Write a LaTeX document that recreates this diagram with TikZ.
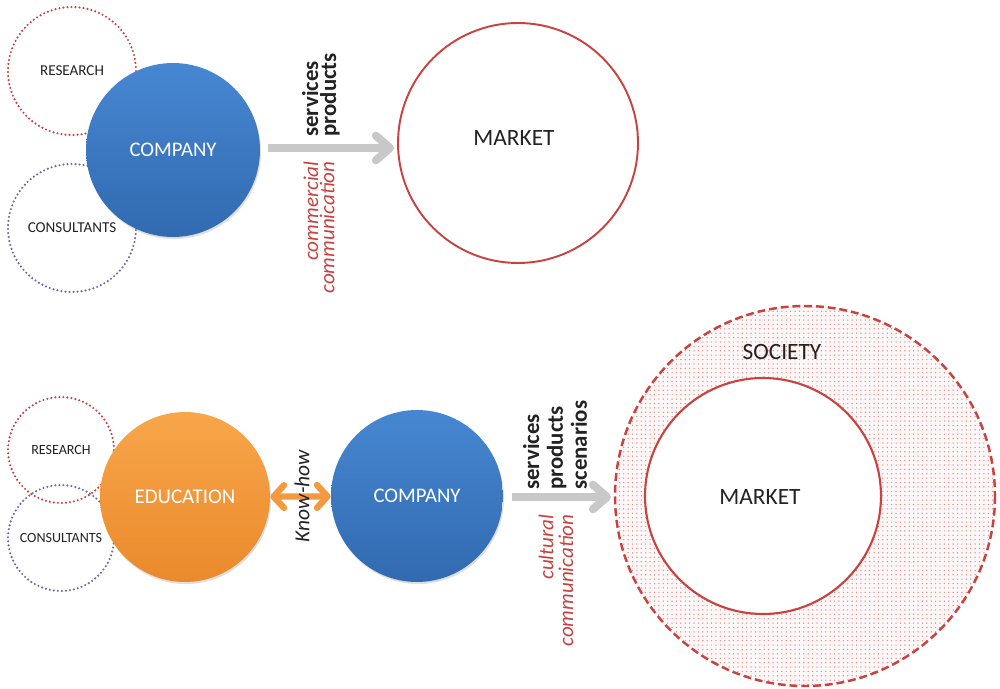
\documentclass[tikz,border=0pt]{standalone}
\usepackage{fontspec}
\setmainfont{Carlito}
\usetikzlibrary{arrows.meta,patterns.meta,shadows}
\definecolor{cbluetop}{HTML}{4787D2}
\definecolor{cbluebot}{HTML}{316AB0}
\definecolor{corangetop}{HTML}{F8A64A}
\definecolor{corangebot}{HTML}{EA8A2C}
\definecolor{cred}{HTML}{C8433F}
\definecolor{cpurple}{HTML}{7466A6}
\definecolor{cgray}{HTML}{C8C8C8}
\definecolor{corange}{HTML}{F39A40}
\definecolor{ctext}{HTML}{222222}
\begin{document}
\begin{tikzpicture}[x=0.02cm,y=-0.02cm,
  dotcirc/.style={circle, draw, line width=1.35pt, dash pattern=on 0pt off 2.3pt, line cap=round, inner sep=0pt, text=ctext},
  bigball/.style={circle, inner sep=0pt, text=white, font=\fontsize{11.8}{14}\selectfont,
     drop shadow={shadow xshift=0.6pt, shadow yshift=-1.2pt, opacity=0.25}},
  blueball/.style={bigball, top color=cbluetop, bottom color=cbluebot},
  orangeball/.style={bigball, top color=corangetop, bottom color=corangebot},
  grayarrow/.style={draw=cgray, line width=4.6pt, -{Straight Barb[length=8pt,width=14pt,line cap=round,line join=round]}},
  orangearrow/.style={draw=corange, line width=3.6pt, {Straight Barb[length=6pt,width=13pt,line cap=round,line join=round]}-{Straight Barb[length=6pt,width=13pt,line cap=round,line join=round]}},
  smallfont/.style={font=\fontsize{8.6}{10}\selectfont},
  smallfontb/.style={font=\fontsize{8}{10}\selectfont},
  bigfont/.style={font=\fontsize{13.3}{16}\selectfont, text=ctext},
  vlabel/.style={rotate=90, inner sep=0pt},
]
\useasboundingbox (0,0) rectangle (1000,689);

% ---------- top diagram ----------
\node[dotcirc, draw=cred, minimum size=2.56cm, smallfont] (res1) at (72,71) {RESEARCH};
\node[dotcirc, draw=cpurple, minimum size=2.56cm, smallfont] (con1) at (72,228) {CONSULTANTS};
\node[blueball, minimum size=3.48cm] (comp1) at (173,150) {COMPANY};
\node[circle, draw=cred, line width=1.1pt, minimum size=4.8cm, inner sep=0pt] (mkt1) at (518,143) {};
\node[bigfont] (mkt1t) at (514,138) {MARKET};
\coordinate (a1s) at (268,148);
\coordinate (a1e) at (394,148);
\draw[grayarrow] (a1s) -- (a1e);
\node[vlabel, anchor=west, align=left, font=\fontsize{13}{9.2}\selectfont\bfseries, text=ctext] (sp1) at (321,137) {services\\products};
\node[vlabel, anchor=east, align=right, font=\fontsize{12}{9.2}\selectfont\itshape, text=cred] (cc1) at (319,161) {commercial\\communication};

% ---------- bottom diagram ----------
\node[circle, fill=cred!4, minimum size=7.6cm, inner sep=0pt] (soc) at (805,496) {};
\fill[pattern={Dots[distance=2.5pt, radius=0.42pt]}, pattern color=cred!60] (soc.center) circle (189);
\draw[cred, line width=1.4pt, dash pattern=on 4.5pt off 2.2pt] (soc.center) circle (190);
\node[bigfont] (soct) at (782,352) {SOCIETY};
\node[circle, draw=cred, fill=white, line width=1.2pt, minimum size=4.72cm, inner sep=0pt] (mkt2) at (763,496) {};
\node[bigfont] (mkt2t) at (760,497) {MARKET};

\node[dotcirc, draw=cred, minimum size=2.12cm, smallfontb] (res2) at (61,450) {RESEARCH};
\node[dotcirc, draw=cpurple, minimum size=2.12cm, smallfontb] (con2) at (61,538) {CONSULTANTS};
\node[orangeball, minimum size=3.4cm, font=\fontsize{11.9}{14}\selectfont] (edu) at (185,497) {EDUCATION};
\node[blueball, minimum size=3.44cm] (comp2) at (417,496) {COMPANY};

\draw[orangearrow] (edu) -- (comp2);
\node[vlabel, font=\fontsize{12.2}{14}\selectfont\itshape, text=ctext] (kh) at (302,496) {Know-how};

\coordinate (a2s) at (512,497);
\coordinate (a2e) at (611,497);
\draw[grayarrow] (a2s) -- (a2e);
\node[vlabel, anchor=west, align=left, font=\fontsize{13}{13.6}\selectfont\bfseries, text=ctext] (sp2) at (555,490) {services\\products\\scenarios};
\node[vlabel, anchor=east, align=right, font=\fontsize{12}{11.3}\selectfont\itshape, text=cred] (cc2) at (556,514) {cultural\\communication};
\end{tikzpicture}
\end{document}
